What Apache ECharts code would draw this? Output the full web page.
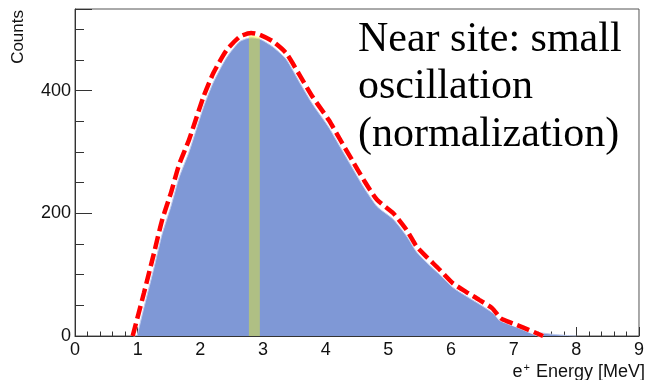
<!DOCTYPE html>
<html>
<head>
<meta charset="utf-8">
<script src="https://cdn.jsdelivr.net/npm/echarts@6/dist/echarts.min.js"></script>
<style>
  html, body { margin: 0; padding: 0; background: #fff; }
  #chart { width: 647px; height: 380px; }
</style>
</head>
<body>
<div id="chart"></div>
<script>
// Positron energy spectrum: measured histogram (filled) and expectation curve (dashed)
const histEnergy = [0.99,1.10,1.26,1.39,1.53,1.66,1.82,2.05,2.21,2.42,2.63,2.81,2.95,3.16,3.37,3.58,3.79,4.05,4.26,4.42,4.61,4.82,5.08,5.29,5.45,5.61,5.82,6.03,6.24,6.45,6.66,6.79,6.92,7.05,7.24,7.45,7.65,7.90,8.00];
const histCounts = [0,46,111,166,211,258,300,373,414,454,480,486,484,471,451,414,378,340,303,275,242,211,190,163,137,120,100,79,65,52,38,27,20,15,9,5,2.5,0.5,0];

const predEnergy = [0.92,1.10,1.26,1.39,1.53,1.66,1.82,2.05,2.21,2.42,2.63,2.81,2.95,3.16,3.37,3.58,3.79,4.05,4.26,4.42,4.61,4.82,5.08,5.29,5.45,5.61,5.82,6.03,6.24,6.45,6.66,6.79,6.92,7.05,7.24,7.47];
const predCounts = [0,70,135,189,233,279,320,390,429,466,488,494,491,480,461,426,390,352,315,287,254,222,200,173,146,129,108,86,72,59,45,29,23,18,10,0];

// Highlighted energy bin
const binLow = 2.775;
const binHigh = 2.95;
const binCount = 492;

const yTicks = [0, 200, 400];
const yMax = 533;
const xMin = 0, xMax = 9;

const zip = (xs, ys) => xs.map((x, i) => [x, ys[i]]);

const sansFont = '"Liberation Sans", Arial, Helvetica, sans-serif';
const serifFont = '"Liberation Serif", "Times New Roman", serif';

const chart = echarts.init(document.getElementById('chart'), null, { renderer: 'canvas' });

chart.setOption({
  animation: false,
  backgroundColor: '#ffffff',
  grid: {
    left: 75, right: 2, top: 9, bottom: 44,
    show: true, borderColor: '#555', borderWidth: 1, backgroundColor: 'transparent'
  },
  xAxis: {
    type: 'value', min: xMin, max: xMax, interval: 1,
    axisLine: { show: true, onZero: false, lineStyle: { color: '#333', width: 1 } },
    axisTick: { show: true, inside: true, length: 9, lineStyle: { color: '#333' } },
    minorTick: { show: true, splitNumber: 5, length: 4.5, lineStyle: { color: '#333' } },
    splitLine: { show: false },
    axisLabel: { fontFamily: sansFont, fontSize: 18, color: '#111', margin: 5 }
  },
  yAxis: {
    type: 'value', min: 0, max: yMax, interval: 200,
    axisLine: { show: true, onZero: false, lineStyle: { color: '#333', width: 1 } },
    axisTick: { show: true, inside: true, length: 17, lineStyle: { color: '#333' } },
    minorTick: { show: true, splitNumber: 4, length: 9, lineStyle: { color: '#333' } },
    splitLine: { show: false },
    axisLabel: {
      fontFamily: sansFont, fontSize: 18, color: '#111', margin: 4,
      showMaxLabel: false,
      formatter: v => (yTicks.indexOf(v) >= 0 ? String(v) : '')
    }
  },
  series: [
    {
      name: 'data',
      type: 'line', z: 1,
      data: zip(histEnergy, histCounts),
      showSymbol: false, smooth: 0.2,
      lineStyle: { width: 1, color: 'rgb(190,202,236)' },
      areaStyle: { color: 'rgb(127,152,214)', opacity: 1 }
    },
    {
      name: 'bin',
      type: 'custom', z: 2,
      data: [[binLow, binHigh, binCount]],
      renderItem: (params, api) => {
        const p0 = api.coord([api.value(0), api.value(2)]);
        const p1 = api.coord([api.value(1), 0]);
        return {
          type: 'rect',
          shape: { x: p0[0], y: p0[1], width: p1[0] - p0[0], height: p1[1] - p0[1] },
          style: { fill: 'rgba(255,255,0,0.38)' }
        };
      }
    },
    {
      name: 'expectation-under',
      type: 'line', z: 3,
      data: zip(predEnergy, predCounts),
      showSymbol: false, smooth: 0.2,
      lineStyle: { width: 5, color: 'rgba(255,255,255,0.9)' }
    },
    {
      name: 'expectation',
      type: 'line', z: 4,
      data: zip(predEnergy, predCounts),
      showSymbol: false, smooth: 0.2,
      lineStyle: { width: 4.5, color: '#ff0000', type: [13, 5] }
    }
  ],
  graphic: [
    {
      type: 'text', x: 18, y: 10, rotation: Math.PI / 2,
      style: { text: 'Counts', font: '17px ' + sansFont, fill: '#111', align: 'right', verticalAlign: 'middle' }
    },
    {
      type: 'text', right: 2, top: 362,
      style: {
        text: '{a|e}{s|+}{a| Energy [MeV]}',
        fill: '#111',
        rich: {
          a: { fontFamily: sansFont, fontSize: 18, color: '#111', lineHeight: 20 },
          s: { fontFamily: sansFont, fontSize: 11, color: '#111', lineHeight: 20, verticalAlign: 'top', padding: [0, 1, 6, 1] }
        }
      }
    },
    {
      type: 'text', x: 358, y: 40,
      style: { text: 'Near site: small', font: '42px ' + serifFont, fill: '#000', verticalAlign: 'middle' }
    },
    {
      type: 'text', x: 358, y: 87,
      style: { text: 'oscillation', font: '42px ' + serifFont, fill: '#000', verticalAlign: 'middle' }
    },
    {
      type: 'text', x: 358, y: 135,
      style: { text: '(normalization)', font: '42px ' + serifFont, fill: '#000', verticalAlign: 'middle' }
    }
  ]
});
</script>
</body>
</html>
